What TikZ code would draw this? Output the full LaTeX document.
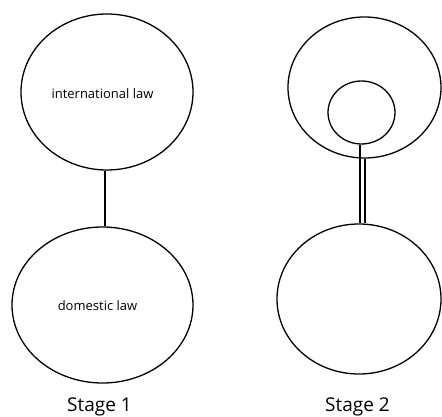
\documentclass[tikz,border=0pt]{standalone}
\usepackage{fontspec}
\setmainfont{Open Sans}
\usetikzlibrary{shapes.geometric}
\tikzset{
    lawring/.style={draw, ellipse, line width=1.3pt, inner sep=0pt},
    stagelabel/.style={font=\fontsize{19}{22}\selectfont, anchor=base},
    lawtext/.style={font=\fontsize{13}{15}\selectfont, anchor=base}
}
\begin{document}
\begin{tikzpicture}[x=1pt,y=-1pt]
    \useasboundingbox (0,0) rectangle (442,417);
    
    % stage 1
    \node[lawring, minimum width=172pt, minimum height=156pt] (intl) at (107,92) {};
    \node[lawring, minimum width=181pt, minimum height=156pt] (dom) at (102.5,305) {};
    \node[lawtext] (intltext) at (102.5,99) {international law};
    \node[lawtext] (domtext) at (97.5,310) {domestic law};
    \draw[line width=1.3pt] ([xshift=-2pt]intl.south) -- ([xshift=-2pt]intl.south |- dom.north);
    
    % stage 2
    \node[lawring, minimum width=153pt, minimum height=141pt] (outer) at (364.5,87.5) {};
    \node[lawring, minimum width=67pt, minimum height=63pt] (inner) at (361.5,112.5) {};
    \node[lawring, minimum width=164pt, minimum height=150pt] (dom2) at (359,299) {};
    \draw[line width=1.3pt] ([xshift=-1.5pt]inner.south) -- ([xshift=-1.5pt]inner.south |- dom2.north);
    \draw[line width=1.3pt] ([xshift=3.5pt]inner.south |- outer.south) -- ([xshift=3.5pt]inner.south |- dom2.north);
    
    \node[stagelabel] (s1) at (99.5,411) {Stage 1};
    \node[stagelabel] (s2) at (357.5,411) {Stage 2};
\end{tikzpicture}
\end{document}
